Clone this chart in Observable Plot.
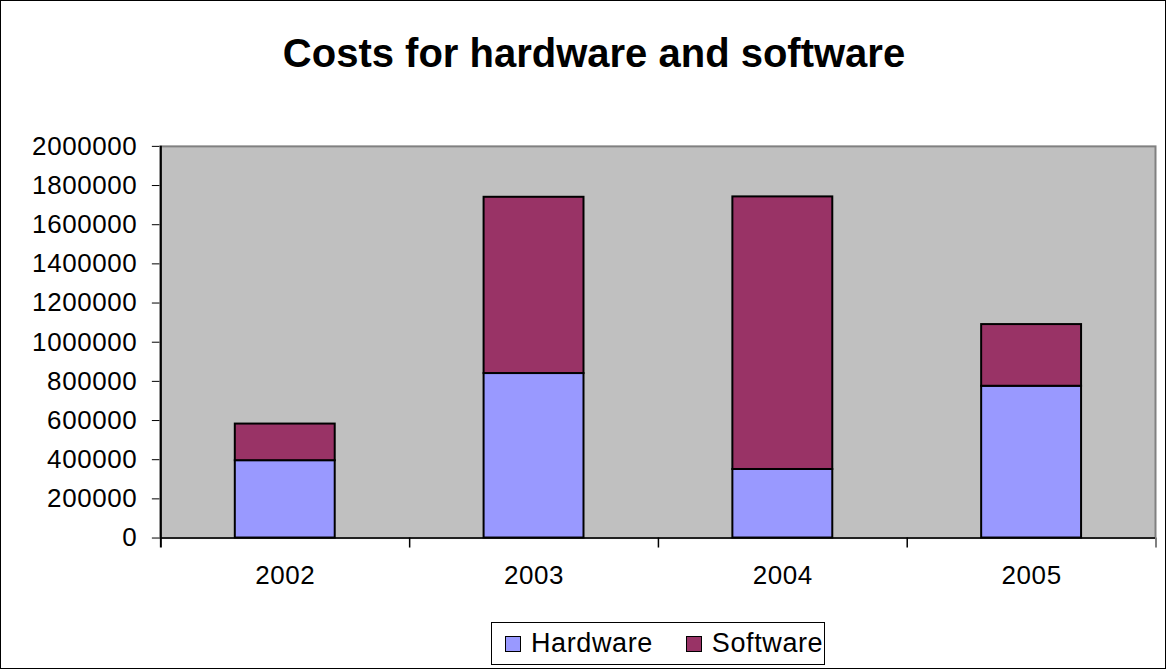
<!DOCTYPE html>
<html>
<head>
<meta charset="utf-8">
<script src="https://cdn.jsdelivr.net/npm/d3@7"></script>
<script src="https://cdn.jsdelivr.net/npm/@observablehq/plot@0.6"></script>
<style>
  html, body { margin: 0; padding: 0; background: white; }
  #frame { position: relative; width: 1166px; height: 669px; box-sizing: border-box; border: 1px solid black; overflow: hidden; font-family: 'Liberation Sans', Arial, sans-serif; }
  #chart { position: absolute; left: -1px; top: -1px; }
  #title { position: absolute; left: 10px; top: 32px; width: 1166px; text-align: center; font-weight: bold; font-size: 40px; line-height: 40px; color: black; }
  #legend { position: absolute; left: 490px; top: 621px; width: 334px; height: 43px; box-sizing: border-box; border: 1px solid black; display: flex; align-items: center; font-size: 27px; line-height: 27px; letter-spacing: 0.6px; padding-left: 13px; }
  .item { display: flex; align-items: center; margin-right: 33px; }
  .sw { width: 14px; height: 14px; border: 1.5px solid black; margin-right: 10px; }
</style>
</head>
<body>
<div id="frame">
  <div id="chart"></div>
  <div id="title">Costs for hardware and software</div>
  <div id="legend"></div>
</div>
<script>
const titleText = "Costs for hardware and software";
const years = ["2002", "2003", "2004", "2005"];
const hardware = [395000, 840000, 350000, 775000];
const software = [187000, 900000, 1392000, 315000];
const seriesNames = ["Hardware", "Software"];
const seriesColors = ["#9999FF", "#993366"];
const yTicks = [0, 200000, 400000, 600000, 800000, 1000000, 1200000, 1400000, 1600000, 1800000, 2000000];

const data = years.flatMap((yr, i) => [
  {year: yr, series: seriesNames[0], value: hardware[i]},
  {year: yr, series: seriesNames[1], value: software[i]}
]);

const W = 1166, H = 669;
const mL = 160, mR = 10, mT = 146, mB = 131;
const step = (W - mL - mR) / years.length;

const chart = Plot.plot({
  width: W, height: H,
  marginTop: mT, marginBottom: mB, marginLeft: mL, marginRight: mR,
  style: {fontFamily: "'Liberation Sans', Arial, sans-serif", fontSize: "26px", letterSpacing: "0.6px", color: "black", background: "transparent", overflow: "visible"},
  x: {domain: years, paddingInner: 0.6, paddingOuter: 0.3, label: null, tickSize: 0, tickPadding: 28},
  y: {domain: [0, 2000000], ticks: yTicks, tickFormat: d => String(d), tickSize: 8, tickPadding: 15, label: null},
  color: {domain: seriesNames, range: seriesColors},
  marks: [
    Plot.frame({fill: "#c0c0c0", stroke: "#808080", strokeWidth: 2}),
    Plot.barY(data, {x: "year", y: "value", fill: "series", stroke: "black", strokeWidth: 2}),
    Plot.ruleY([0], {stroke: "black", strokeWidth: 1.5}),
    Plot.ruleX([years[0]], {x: d => d, dx: -step / 2, stroke: "black", strokeWidth: 2, insetBottom: -10}),
    Plot.ruleX(years.slice(1), {x: d => d, dx: -step / 2, stroke: "black", strokeWidth: 1.5, insetTop: H - mT - mB, insetBottom: -10}),
    Plot.ruleX([years[years.length - 1]], {x: d => d, dx: step / 2, stroke: "#808080", strokeWidth: 2, insetTop: H - mT - mB, insetBottom: -10})
  ]
});
document.getElementById("chart").appendChild(chart);
document.getElementById("title").textContent = titleText;

const legend = document.getElementById("legend");
seriesNames.forEach((name, i) => {
  const item = document.createElement("div");
  item.className = "item";
  const sw = document.createElement("div");
  sw.className = "sw";
  sw.style.background = seriesColors[i];
  const label = document.createElement("span");
  label.textContent = name;
  item.appendChild(sw);
  item.appendChild(label);
  legend.appendChild(item);
});
</script>
</body>
</html>
